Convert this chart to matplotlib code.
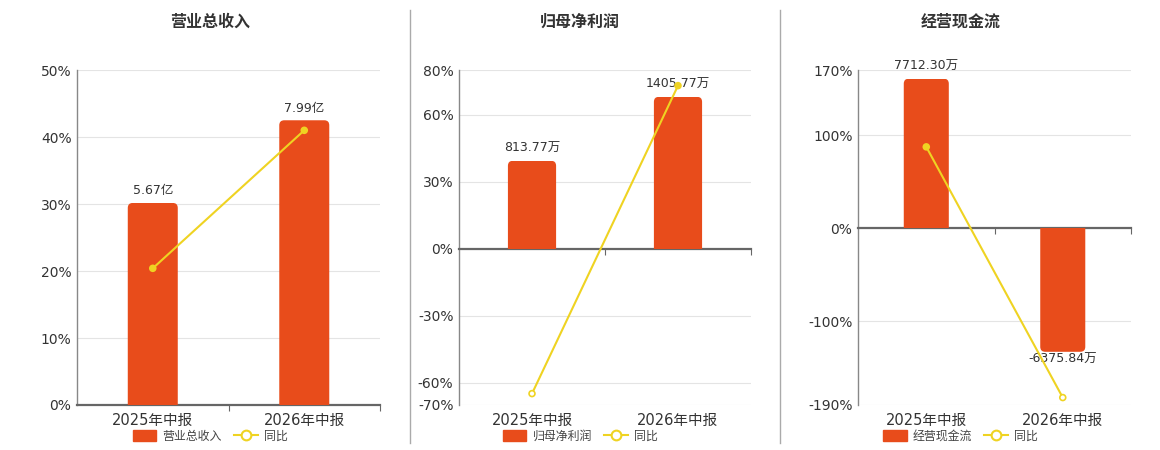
"""Three-panel half-year summary: bars (amount) + YoY line (percent)."""
import matplotlib
matplotlib.use("Agg")
import matplotlib.pyplot as plt
from matplotlib.lines import Line2D
from matplotlib.patches import FancyBboxPatch, Patch, Rectangle
from matplotlib.ticker import FuncFormatter

plt.rcParams["font.family"] = ["DejaVu Sans", "Noto Sans CJK SC"]

BAR_COLOR = "#E84C1B"
LINE_COLOR = "#EFD322"
TEXT = "#333333"

periods = ["2025年中报", "2026年中报"]

titles = ["营业总收入", "归母净利润", "经营现金流"]

revenue = [5.67, 7.99]            # 亿
revenue_labels = ["5.67亿", "7.99亿"]
revenue_yoy = [20.4, 41.0]        # %

net_profit = [813.77, 1405.77]    # 万
net_profit_labels = ["813.77万", "1405.77万"]
net_profit_yoy = [-64.9, 73.0]

cash_flow = [7712.30, -6375.84]   # 万
cash_flow_labels = ["7712.30万", "-6375.84万"]
cash_flow_yoy = [87.4, -182.0]

yticks = [[0, 10, 20, 30, 40, 50],
          [-70, -60, -30, 0, 30, 60, 80],
          [-190, -100, 0, 100, 170]]

# axes boxes (fig fraction) and hidden bar-axis ranges
W_PX, H_PX = 1160, 450
BOXES = [(0.0664, 0.100, 0.2612, 0.7444),
         (0.3957, 0.100, 0.2517, 0.7444),
         (0.7397, 0.100, 0.2353, 0.7444)]
BAR_LIMS = [(0, 9.40), (-1447, 1654), (-9120, 8160)]
CENTERS = [0.181, 0.500, 0.828]
RADIUS_PX = 5


def round_bars(bx, bars, box, lims):
    """Swap plain bars for ones with rounded outer corners."""
    ux = 2.0 / (box[2] * W_PX)                 # data units per px (x)
    uy = (lims[1] - lims[0]) / (box[3] * H_PX)  # data units per px (y)
    rx, ry = RADIUS_PX * ux, RADIUS_PX * uy
    for b in bars:
        x0, y0, w, h = b.get_x(), b.get_y(), b.get_width(), b.get_height()
        b.set_visible(False)
        y_lo, y_hi = min(y0, y0 + h), max(y0, y0 + h)
        # extend past the zero line, then clip, so only the outer end is round
        ext = 3 * ry
        if y0 + h > 0:
            p_lo, p_hi = y_lo - ext, y_hi
        else:
            p_lo, p_hi = y_lo, y_hi + ext
        patch = FancyBboxPatch((x0, p_lo), w, p_hi - p_lo,
                               boxstyle=f"round,pad=0,rounding_size={rx}",
                               mutation_aspect=ry / rx, fc=BAR_COLOR,
                               ec="none", zorder=2)
        bx.add_patch(patch)
        patch.set_clip_path(Rectangle((x0 - w, y_lo), 3 * w, y_hi - y_lo,
                                      transform=bx.transData))


def panel(fig, i, values, labels, yoy):
    ax = fig.add_axes(BOXES[i])
    ticks = yticks[i]
    ax.set_ylim(min(ticks), max(ticks))
    ax.set_xlim(-0.5, 1.5)
    ax.set_yticks(ticks)
    ax.yaxis.set_major_formatter(FuncFormatter(lambda v, _: f"{v:.0f}%"))
    ax.tick_params(axis="y", length=0, labelsize=10, labelcolor=TEXT, pad=4)
    ax.grid(axis="y", color="#e4e4e4", lw=0.8)
    ax.set_axisbelow(True)
    for s in ("top", "right"):
        ax.spines[s].set_visible(False)
    ax.spines["left"].set_color("#888888")
    ax.spines["left"].set_linewidth(1.0)
    ax.spines["bottom"].set_position(("data", 0))
    ax.spines["bottom"].set_color("#666666")
    ax.spines["bottom"].set_linewidth(1.6)
    ax.set_xticks([0.5, 1.5])
    ax.set_xticklabels([])
    ax.tick_params(axis="x", length=4, color="#666666", width=0.8)
    for x, p in enumerate(periods):
        ax.text(x, -0.045, p, transform=ax.get_xaxis_transform(), ha="center",
                va="center", fontsize=10.5, color=TEXT)

    bx = ax.twinx()
    bx.set_ylim(*BAR_LIMS[i])
    bx.axis("off")
    bars = bx.bar(range(len(values)), values, width=0.33, color=BAR_COLOR, zorder=2)
    for b, v, lab in zip(bars, values, labels):
        if v >= 0:
            bx.annotate(lab, (b.get_x() + b.get_width() / 2, v), xytext=(0, 4),
                        textcoords="offset points", ha="center", va="bottom",
                        fontsize=9, color=TEXT)
        else:
            bx.annotate(lab, (b.get_x() + b.get_width() / 2, v), xytext=(0, -1),
                        textcoords="offset points", ha="center", va="top",
                        fontsize=9, color=TEXT)
    round_bars(bx, bars, BOXES[i], BAR_LIMS[i])

    lx = bx.twinx()
    lx.set_ylim(min(ticks), max(ticks))
    lx.axis("off")
    lx.plot(range(len(yoy)), yoy, color=LINE_COLOR, lw=1.5, zorder=3)
    faces = [LINE_COLOR if v >= 0 else "white" for v in yoy]
    lx.scatter(range(len(yoy)), yoy, s=18, facecolors=faces,
               edgecolors=LINE_COLOR, linewidths=1.2, zorder=4)

    fig.text(CENTERS[i], 0.951, titles[i], ha="center", va="center",
             fontsize=11.5, fontweight="bold", color=TEXT,
             family=["Noto Sans CJK SC"])
    handles = [Patch(facecolor=BAR_COLOR, edgecolor=BAR_COLOR, label=titles[i]),
               Line2D([], [], color=LINE_COLOR, lw=1.5, marker="o", ms=7,
                      mfc="white", mec=LINE_COLOR, mew=1.5, label="同比")]
    fig.legend(handles=handles, loc="center", bbox_to_anchor=(CENTERS[i], 0.031),
               ncol=2, frameon=False, fontsize=8.6, handlelength=2.0,
               handleheight=1.0, columnspacing=1.0, handletextpad=0.5,
               labelcolor="#444444")


fig = plt.figure(figsize=(W_PX / 100, H_PX / 100), dpi=100)
panel(fig, 0, revenue, revenue_labels, revenue_yoy)
panel(fig, 1, net_profit, net_profit_labels, net_profit_yoy)
panel(fig, 2, cash_flow, cash_flow_labels, cash_flow_yoy)

for x in (410 / W_PX, 780 / W_PX):
    fig.add_artist(Line2D([x, x], [0.015, 0.978], color="#aaaaaa", lw=1.0))

fig.savefig("out.png", dpi=100, facecolor="white")
